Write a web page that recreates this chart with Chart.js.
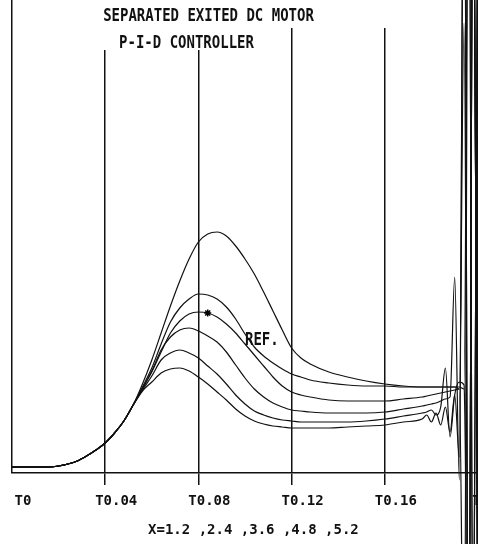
<!DOCTYPE html>
<html lang="en">
<head>
  <meta charset="UTF-8">
  <title>Separated Exited DC Motor - P-I-D Controller</title>
  <script src="https://cdn.jsdelivr.net/npm/chart.js"></script>
  <style>
    html, body { margin: 0; padding: 0; background: #fff; }
    #wrap { width: 478px; height: 544px; }
  </style>
</head>
<body>
  <div id="wrap"><canvas id="motorChart" width="478" height="544"></canvas></div>

  <script>
    // time (s)
    const time = [0, 0.008, 0.016, 0.020, 0.024, 0.028, 0.032, 0.036, 0.040, 0.044, 0.048, 0.052,
      0.056, 0.060, 0.064, 0.068, 0.072, 0.076, 0.080, 0.084, 0.088, 0.092, 0.096, 0.100,
      0.104, 0.108, 0.112, 0.116, 0.120, 0.124, 0.128, 0.136, 0.144, 0.152, 0.160, 0.168, 0.176,
      0.178, 0.180, 0.182, 0.184, 0.186, 0.188, 0.190, 0.192, 0.194, 0.196, 0.198, 0.200];

    // motor speed, one curve per gain (same units for all)
    const rise = [0, 0, 0, 1, 3, 6, 11, 17, 24, 34, 46, 62];
    const speedX52 = rise.concat([83, 107, 134, 161, 186, 208, 225, 233, 235, 231, 221, 208, 193, 175, 156, 137, 119,
      109, 103, 95, 90, 86, 83, 81, 80,
      80, 80, 80, 80, 80, 80, 80, 80, 78, 700, -250, 700]);
    const speedX48 = rise.concat([80, 99, 123, 145, 159, 168, 173, 172, 168, 160, 148, 133, 120, 111, 104, 98, 93,
      90, 87, 84, 82, 81, 81, 80, 80,
      80, 80, 80, 80, 80, 80, 80, 78, 444, -250, 700, -250]);
    const speedRef = rise.concat([79, 95, 115, 134, 146, 153, 155, 154, 150, 143, 134, 123, 112, 101, 90, 81, 75,
      72, 70, 67, 66, 66, 66, 68, 70,
      71, 72, 73, 74, 75, 76, 77, 78, -250, 700, -250, 700]);
    const speedX36 = rise.concat([78, 96, 117, 130, 137, 139, 136, 131, 125, 115, 102, 89, 78, 70, 64, 60, 57,
      56, 55, 54, 54, 54, 55, 58, 61,
      62, 63, 64, 66, 68, 70, 190, -13, 700, -250, 700, -250]);
    const speedX24 = rise.concat([77, 91, 107, 114, 117, 114, 109, 101, 93, 83, 72, 63, 56, 52, 49, 47, 46,
      45, 45, 45, 45, 46, 48, 51, 54,
      55, 57, 52, 60, 99, 30, 72, 85, 82, -250, 700, -250]);
    const speedX12 = rise.concat([76, 85, 94, 98, 99, 96, 90, 83, 75, 67, 58, 51, 46, 43, 41, 40, 39,
      39, 39, 39, 40, 41, 42, 45, 48,
      52, 45, 54, 42, 60, 35, 72, 10, 700, -250, 700, -250]);

    const titleLines = ['SEPARATED EXITED DC MOTOR', 'P-I-D CONTROLLER'];
    const gainText = 'X=1.2 ,2.4 ,3.6 ,4.8 ,5.2';
    const refText = 'REF.';
    const refMarkTime = 0.084;
    const refTextTime = 0.100;

    const ink = '#111';
    const monoFont = { family: '"DejaVu Sans Mono", "Liberation Mono", monospace', size: 14, weight: 'bold' };

    const series = [speedX52, speedX48, speedRef, speedX36, speedX24, speedX12];
    const refIndex = 2;
    const markIdx = time.indexOf(refMarkTime);

    const datasets = series.map((vals, k) => ({
      data: time.map((t, i) => ({ x: t, y: vals[i] })),
      borderColor: ink,
      borderWidth: 1.2,
      cubicInterpolationMode: 'monotone',
      clip: false,
      pointStyle: 'star',
      pointBorderColor: '#000',
      pointBorderWidth: 1.5,
      pointRadius: ctx => (k === refIndex && ctx.dataIndex === markIdx) ? 3.5 : 0
    }));

    // title block and REF. note drawn over the grid
    const notes = {
      id: 'notes',
      beforeDatasetsDraw(chart) {
        const ctx = chart.ctx;
        ctx.save();
        ctx.fillStyle = '#fff';
        ctx.fillRect(90, 0, 180, 50);
        ctx.fillRect(270, 0, 130, 28);
        ctx.restore();
      },
      afterDatasetsDraw(chart) {
        const ctx = chart.ctx;
        const xs = chart.scales.x, ys = chart.scales.y;
        ctx.save();
        ctx.fillStyle = ink;
        ctx.font = 'bold 14px "DejaVu Sans Mono", monospace';
        ctx.scale(1, 1.25);
        ctx.textAlign = 'center';
        ctx.textBaseline = 'alphabetic';
        ctx.fillText(titleLines[0], 208.5, 21 / 1.25);
        ctx.fillText(titleLines[1], 186.5, 48 / 1.25);
        const ri = time.indexOf(refTextTime);
        const rx = xs.getPixelForValue(refTextTime);
        const ry = ys.getPixelForValue(speedRef[ri]) + 1;
        ctx.textAlign = 'left';
        ctx.fillText(refText, rx, ry / 1.25);
        ctx.restore();
      }
    };

    const chart = new Chart(document.getElementById('motorChart'), {
      type: 'line',
      data: { datasets },
      options: {
        responsive: false,
        animation: false,
        layout: { padding: { left: 12, right: 0, top: 0, bottom: 0 } },
        plugins: {
          legend: { display: false },
          tooltip: { enabled: false }
        },
        scales: {
          x: {
            type: 'linear',
            min: 0,
            max: 0.2,
            ticks: {
              stepSize: 0.04,
              autoSkip: false,
              maxRotation: 0,
              labelOffset: 11,
              padding: 8,
              color: ink,
              font: monoFont,
              callback: v => 'T' + parseFloat(Number(v).toFixed(2))
            },
            grid: {
              color: ink,
              lineWidth: 1.5,
              tickLength: 12,
              tickColor: c => c.index === 0 ? 'rgba(0,0,0,0)' : ink
            },
            border: { display: true, color: ink, width: 1.5 },
            title: {
              display: true,
              text: '  ' + gainText,
              color: ink,
              font: monoFont,
              padding: { top: 0, bottom: 5 }
            },
            afterFit(scale) {
              scale.height = 71;
              scale.paddingLeft = 0;
              scale.paddingRight = 0;
            }
          },
          y: {
            display: false,
            min: -6,
            max: 467
          }
        }
      },
      plugins: [notes]
    });
  </script>
</body>
</html>
